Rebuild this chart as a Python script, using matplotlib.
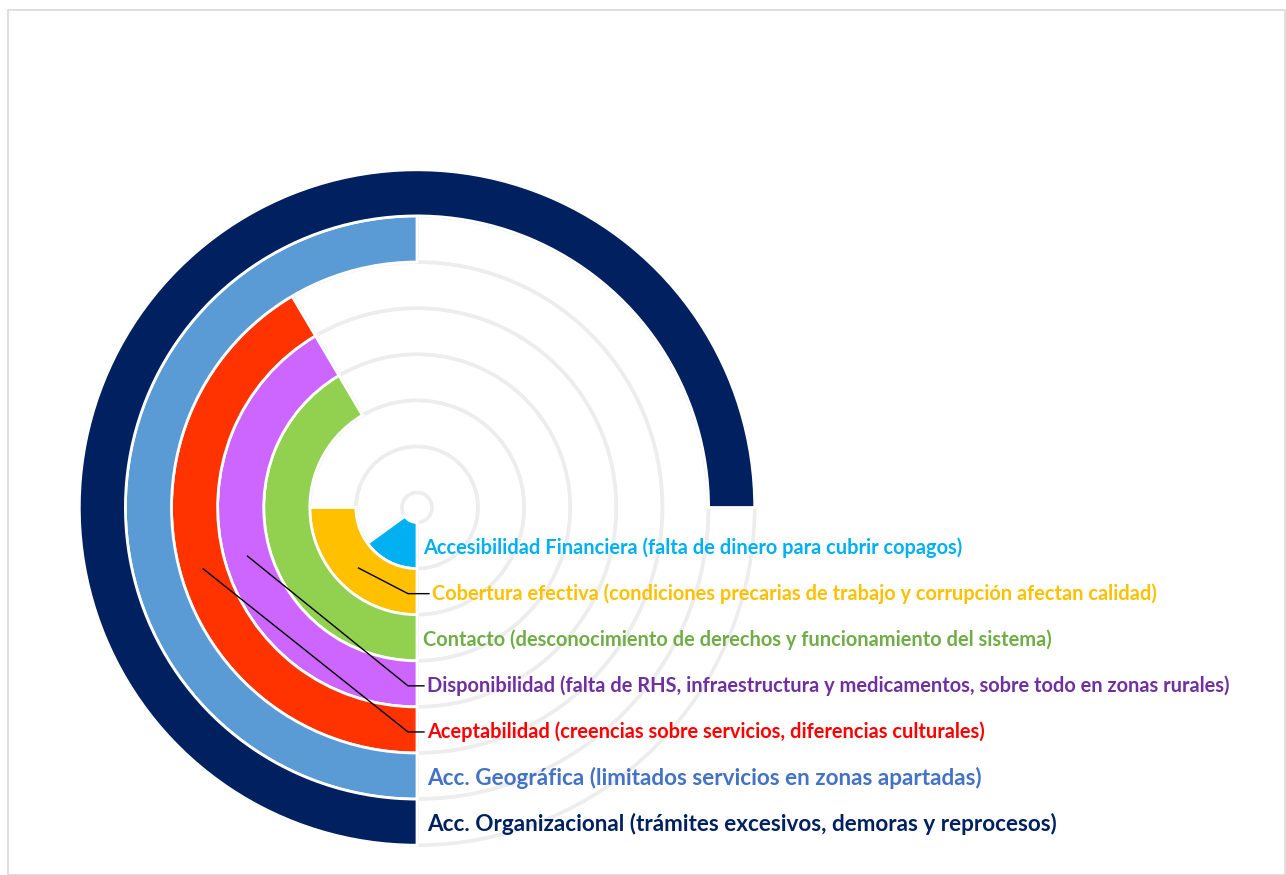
import numpy as np
import matplotlib.pyplot as plt
from matplotlib.patches import Wedge, Rectangle

# rings from the centre outwards
labels = [
    'Accesibilidad Financiera (falta de dinero para cubrir copagos)',
    'Cobertura efectiva (condiciones precarias de trabajo y corrupción afectan calidad)',
    'Contacto (desconocimiento de derechos y funcionamiento del sistema)',
    'Disponibilidad (falta de RHS, infraestructura y medicamentos, sobre todo en zonas rurales)',
    'Aceptabilidad (creencias sobre servicios, diferencias culturales)',
    'Acc. Geográfica (limitados servicios en zonas apartadas)',
    'Acc. Organizacional (trámites excesivos, demoras y reprocesos)',
]
values = [0.15, 0.25, 0.415, 0.415, 0.415, 0.50, 0.75]
bar_colors = ['#00B0F0', '#FFC000', '#92D050', '#CC66FF', '#FF3300', '#5B9BD5', '#002060']
text_colors = ['#00B0F0', '#FFC000', '#70AD47', '#7030A0', '#FF0000', '#4472C4', '#002060']
text_sizes = [14.4, 14.4, 14.4, 14.4, 14.4, 16.2, 16.2]
# rings that get a leader line, with the angle (deg, clockwise from bottom) where it starts
leaders = {1: 44, 3: 74, 4: 74}

W, H = 1286, 875
fig = plt.figure(figsize=(W / 100, H / 100), dpi=100)
ax = fig.add_axes([0, 0, 1, 1])
ax.set_xlim(0, W)
ax.set_ylim(0, H)
ax.axis('off')

cx, cy = 417, H - 507.5
hole = 15
ring_w = 46.1
track = '#EDEDED'

for i, v in enumerate(values):
    r_out = hole + ring_w * (i + 1)
    start = -90 - 360 * v
    # the rest of the ring: no fill, grey outline
    ax.add_patch(Wedge((cx, cy), r_out, -90, start + 360, width=ring_w,
                       facecolor='white', edgecolor=track, lw=2.6, zorder=1))
    ax.add_patch(Wedge((cx, cy), r_out, start, -90, width=ring_w,
                       facecolor=bar_colors[i], edgecolor='white', lw=2.0, zorder=2))

    r_mid = r_out - ring_w / 2
    ty = cy - r_mid - 2
    tx = 423 if i in (0, 2) else 427
    if i == 1:
        tx = 432
    ax.text(tx, ty, labels[i], color=text_colors[i], fontsize=text_sizes[i],
            fontweight='bold', family=['Lato', 'DejaVu Sans'],
            ha='left', va='center', zorder=4)
    if i in leaders:
        a = np.radians(leaders[i])
        sx = cx - r_mid * np.sin(a)
        sy = cy - r_mid * np.cos(a)
        ax.plot([sx, 408, tx - 3], [sy, ty, ty], color='black', lw=1.0, zorder=3)

fig.add_artist(Rectangle((8 / W, 0), (W - 9) / W, (H - 10) / H, transform=fig.transFigure,
                         fill=False, edgecolor='#D9D9D9', lw=1.2))

fig.savefig('out.png', dpi=100)
